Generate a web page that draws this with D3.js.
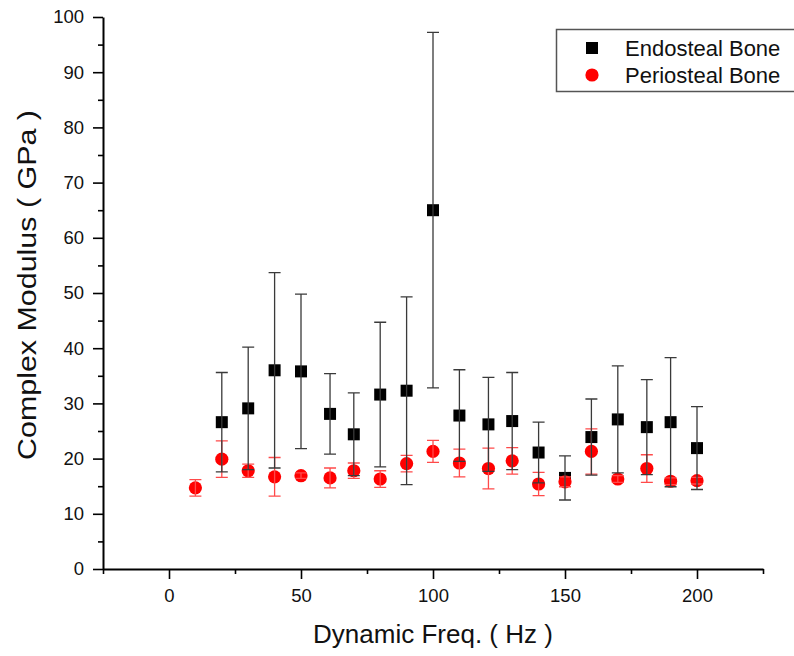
<!DOCTYPE html>
<html>
<head>
<meta charset="utf-8">
<script src="https://cdn.jsdelivr.net/npm/d3@7"></script>
<style>
  html, body { margin: 0; padding: 0; background: #fff; }
  svg { display: block; font-family: "Liberation Sans", Arial, sans-serif; }
</style>
</head>
<body>
<svg id="chart" width="794" height="656"></svg>
<script>
// Frequencies (Hz) and complex modulus (GPa), mean ± SD
const endoFreq = [20, 30, 40, 50, 61, 70, 80, 90, 100, 110, 121, 130, 140, 150, 160, 170, 181, 190, 200];
const endoMean = [26.6, 29.1, 36.0, 35.8, 28.1, 24.4, 31.6, 32.3, 65.0, 27.8, 26.2, 26.8, 21.1, 16.5, 23.9, 27.1, 25.7, 26.6, 21.9];
const endoSD   = [9.0, 11.1, 17.7, 14.0, 7.3, 7.5, 13.1, 17.0, 32.2, 8.3, 8.5, 8.8, 5.5, 4.0, 6.9, 9.7, 8.6, 11.7, 7.5];

const perioFreq = [10, 20, 30, 40, 50, 61, 70, 80, 90, 100, 110, 121, 130, 140, 150, 160, 170, 181, 190, 200];
const perioMean = [14.7, 19.9, 17.8, 16.7, 16.9, 16.5, 17.8, 16.3, 19.1, 21.3, 19.2, 18.2, 19.6, 15.4, 15.8, 21.3, 16.3, 18.2, 15.9, 16.0];
const perioSD   = [1.5, 3.3, 1.2, 3.5, 0.5, 1.8, 1.4, 1.5, 1.5, 2.0, 2.5, 3.7, 2.4, 2.1, 0.9, 4.1, 0.6, 2.5, 0.6, 0.6];

const xMajor = [0, 50, 100, 150, 200];
const xMinor = [-25, 25, 75, 125, 175, 225];
const yMajor = [0, 10, 20, 30, 40, 50, 60, 70, 80, 90, 100];
const yMinor = [5, 15, 25, 35, 45, 55, 65, 75, 85, 95];

const seriesNames = ["Endosteal Bone", "Periosteal Bone"];

const endo = endoFreq.map((f, i) => ({ f, m: endoMean[i], sd: endoSD[i] }));
const perio = perioFreq.map((f, i) => ({ f, m: perioMean[i], sd: perioSD[i] }));

const svg = d3.select("#chart");
const x = d3.scaleLinear().domain([-25, 225]).range([103, 763]);
const y = d3.scaleLinear().domain([0, 100]).range([569, 17]);

const tickFont = "18.5px";

// y axis
const gy = svg.append("g").attr("transform", `translate(${x(-25)},0)`);
gy.call(d3.axisLeft(y).tickValues(yMajor).tickSize(10).tickSizeOuter(0).tickPadding(9));
const gyMinor = svg.append("g").attr("transform", `translate(${x(-25)},0)`);
gyMinor.call(d3.axisLeft(y).tickValues(yMinor).tickSize(5).tickFormat(""));
gyMinor.select(".domain").remove();

// x axis
const gx = svg.append("g").attr("transform", `translate(0,${y(0)})`);
gx.call(d3.axisBottom(x).tickValues(xMajor).tickSize(10).tickSizeOuter(0).tickPadding(10));
const gxMinor = svg.append("g").attr("transform", `translate(0,${y(0)})`);
gxMinor.call(d3.axisBottom(x).tickValues(xMinor).tickSize(5).tickFormat(""));
gxMinor.select(".domain").remove();

svg.selectAll(".domain").attr("stroke", "#000").attr("stroke-width", 2);
svg.selectAll(".tick line").attr("stroke", "#000").attr("stroke-width", 1.6);
svg.selectAll(".tick text")
  .attr("font-size", tickFont)
  .attr("font-family", "'Liberation Sans', Arial, sans-serif")
  .attr("fill", "#111");

// axis titles
svg.append("text")
  .attr("x", (x(-25) + x(225)) / 2)
  .attr("y", 643)
  .attr("text-anchor", "middle")
  .attr("font-size", "26px")
  .attr("fill", "#111")
  .text("Dynamic Freq. ( Hz )");

svg.append("text")
  .attr("transform", `translate(36,${(y(0) + y(100)) / 2 - 8}) rotate(-90)`)
  .attr("text-anchor", "middle")
  .attr("font-size", "26px")
  .attr("fill", "#111")
  .attr("textLength", 350)
  .attr("lengthAdjust", "spacingAndGlyphs")
  .text("Complex Modulus ( GPa )");

const capW = 6;
function errorBars(data, color, width) {
  const g = svg.append("g").attr("stroke", color).attr("stroke-width", width).attr("fill", "none");
  g.selectAll("path").data(data).join("path")
    .attr("d", d => {
      const cx = x(d.f), t = y(d.m + d.sd), b = y(d.m - d.sd);
      return `M${cx},${t}V${b}M${cx - capW},${t}H${cx + capW}M${cx - capW},${b}H${cx + capW}`;
    });
}

// markers
const sq = 12;
svg.append("g").selectAll("rect").data(endo).join("rect")
  .attr("x", d => x(d.f) - sq / 2)
  .attr("y", d => y(d.m) - sq / 2)
  .attr("width", sq).attr("height", sq)
  .attr("fill", "#000");

svg.append("g").selectAll("circle").data(perio).join("circle")
  .attr("cx", d => x(d.f))
  .attr("cy", d => y(d.m))
  .attr("r", 6.6)
  .attr("fill", "#ff0000");

errorBars(perio, "#ff4a4a", 1.3);
errorBars(endo, "#3a3a3a", 1.3);

// legend
const lg = svg.append("g");
lg.append("rect")
  .attr("x", 556.5).attr("y", 29.5)
  .attr("width", 260).attr("height", 62)
  .attr("fill", "#fff")
  .attr("stroke", "#555").attr("stroke-width", 1.5);
lg.append("rect").attr("x", 592 - 6).attr("y", 48 - 6).attr("width", 12).attr("height", 12).attr("fill", "#000");
lg.append("circle").attr("cx", 592).attr("cy", 75).attr("r", 6.6).attr("fill", "#ff0000");
lg.selectAll("text").data(seriesNames).join("text")
  .attr("x", 625)
  .attr("y", (d, i) => 48 + i * 27 + 8)
  .attr("font-size", "22px")
  .attr("fill", "#111")
  .text(d => d);
</script>
</body>
</html>
